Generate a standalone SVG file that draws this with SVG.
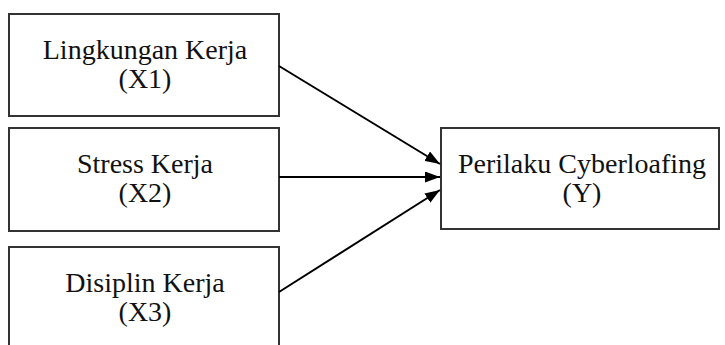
<svg xmlns="http://www.w3.org/2000/svg" width="725" height="345" viewBox="0 0 725 345">
<defs>
<style>
.box{fill:#fff;stroke:#333;stroke-width:2}
.t{font-family:"Liberation Serif","Times New Roman",serif;font-size:28px;fill:#111;text-anchor:middle}
.c{stroke:#000;stroke-width:2;fill:none}
</style>
<marker id="ah" viewBox="0 0 10 10" refX="10" refY="5" markerWidth="15" markerHeight="11" markerUnits="userSpaceOnUse" orient="auto" preserveAspectRatio="none">
<path d="M0,0 L10,5 L0,10 z" fill="#000"/>
</marker>
</defs>
<rect width="725" height="345" fill="#fff"/>
<g id="x1">
<rect class="box" x="9" y="14" width="270" height="102"/>
<text class="t" x="145" y="59">Lingkungan Kerja</text>
<text class="t" x="145" y="88">(X1)</text>
</g>
<g id="x2">
<rect class="box" x="9" y="128" width="270" height="103"/>
<text class="t" x="145" y="173">Stress Kerja</text>
<text class="t" x="145" y="202">(X2)</text>
</g>
<g id="x3">
<rect class="box" x="9" y="247" width="270" height="110"/>
<text class="t" x="145" y="292">Disiplin Kerja</text>
<text class="t" x="145" y="321">(X3)</text>
</g>
<g id="y">
<rect class="box" x="441" y="128" width="278" height="101"/>
<text class="t" x="582" y="173">Perilaku Cyberloafing</text>
<text class="t" x="582" y="202">(Y)</text>
</g>
<g id="connectors">
<line class="c" x1="279" y1="66" x2="440" y2="164" marker-end="url(#ah)"/>
<line class="c" x1="279" y1="177" x2="440" y2="177" marker-end="url(#ah)"/>
<line class="c" x1="279" y1="292" x2="440" y2="190" marker-end="url(#ah)"/>
</g>
</svg>
